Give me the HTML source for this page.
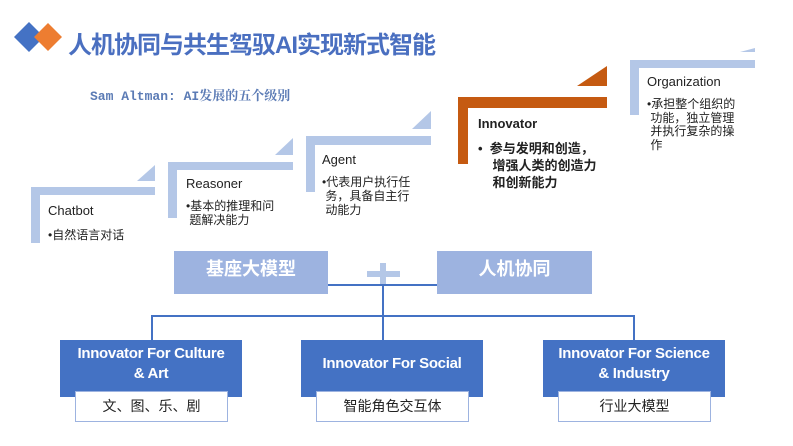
<!DOCTYPE html>
<html><head><meta charset="utf-8"><style>
body{margin:0;width:793px;height:446px;background:#fff;position:relative;overflow:hidden;font-family:"Liberation Sans","Noto Sans CJK SC",sans-serif;}
.a{position:absolute;}
.lb{background:#b4c7e7;position:absolute;}
.t{position:absolute;font-size:13px;color:#222;}
.b{position:absolute;font-size:12px;color:#222;line-height:14px;}
.blue{position:absolute;background:#4472c4;color:#fff;font-weight:bold;font-size:15px;text-align:center;line-height:20px;display:flex;align-items:center;justify-content:center;padding-bottom:10px;box-sizing:border-box;letter-spacing:-0.3px;}
.wl{position:absolute;background:#fff;border:1px solid #9db3e0;font-size:14px;text-align:center;line-height:28px;color:#222;}
.ln{position:absolute;background:#4472c4;}
</style></head><body>
<svg class="a" style="left:0;top:0" width="793" height="446">
<polygon points="29,22 44,37 29,52 14,37" fill="#4472c4"/>
<polygon points="48,23 62,37 48,51 34,37" fill="#ed7d31"/>
<polygon points="137,181 155,181 155,165" fill="#b4c7e7"/>
<polygon points="275,155 293,155 293,138" fill="#b4c7e7"/>
<polygon points="412,129 431,129 431,111" fill="#b4c7e7"/>
<polygon points="577,86 607,86 607,66" fill="#c55a11"/>
<polygon points="740,52 755,52 755,48" fill="#b4c7e7"/>
</svg>
<div class="a" style="left:68px;top:25px;font-size:24px;font-weight:bold;color:#4a6fc0;letter-spacing:-1px;white-space:nowrap">人机协同与共生驾驭AI实现新式智能</div>
<div class="a" style="left:90px;top:85px;font-size:13px;font-weight:bold;color:#5b7bb5;font-family:'Liberation Mono','Noto Serif CJK SC',monospace;white-space:nowrap">Sam Altman: AI发展的五个级别</div>

<div class="lb" style="left:31px;top:187px;width:124px;height:8px"></div>
<div class="lb" style="left:31px;top:187px;width:9px;height:56px"></div>
<div class="t" style="left:48px;top:203px">Chatbot</div>
<div class="b" style="left:48px;top:228px">•自然语言对话</div>

<div class="lb" style="left:168px;top:162px;width:125px;height:8px"></div>
<div class="lb" style="left:168px;top:162px;width:9px;height:56px"></div>
<div class="t" style="left:186px;top:176px">Reasoner</div>
<div class="b" style="left:186px;top:199px">•基本的推理和问<br>&nbsp;题解决能力</div>

<div class="lb" style="left:306px;top:136px;width:125px;height:9px"></div>
<div class="lb" style="left:306px;top:136px;width:9px;height:56px"></div>
<div class="t" style="left:322px;top:152px">Agent</div>
<div class="b" style="left:322px;top:175px">•代表用户执行任<br>&nbsp;务，具备自主行<br>&nbsp;动能力</div>

<div class="a" style="left:458px;top:97px;width:149px;height:11px;background:#c55a11"></div>
<div class="a" style="left:458px;top:97px;width:10px;height:67px;background:#c55a11"></div>
<div class="t" style="left:478px;top:116px;font-weight:bold">Innovator</div>
<div class="b" style="left:478px;top:140px;font-weight:bold;font-size:13px;line-height:17px">•&nbsp;&nbsp;参与发明和创造，<br>&nbsp;&nbsp;&nbsp;&nbsp;增强人类的创造力<br>&nbsp;&nbsp;&nbsp;&nbsp;和创新能力</div>

<div class="lb" style="left:630px;top:60px;width:125px;height:8px"></div>
<div class="lb" style="left:630px;top:60px;width:9px;height:55px"></div>
<div class="t" style="left:647px;top:74px">Organization</div>
<div class="b" style="left:647px;top:98px;line-height:13.5px">•承担整个组织的<br>&nbsp;功能，独立管理<br>&nbsp;并执行复杂的操<br>&nbsp;作</div>

<div class="a" style="left:174px;top:251px;width:154px;height:43px;background:#9db3e0;color:#fff;font-weight:bold;font-size:18px;text-align:center;line-height:36px">基座大模型</div>
<div class="a" style="left:437px;top:251px;width:155px;height:43px;background:#9db3e0;color:#fff;font-weight:bold;font-size:18px;text-align:center;line-height:36px">人机协同</div>
<div class="lb" style="left:367px;top:271px;width:33px;height:6px"></div>
<div class="lb" style="left:380px;top:263px;width:6px;height:22px"></div>

<div class="ln" style="left:328px;top:284px;width:109px;height:2px"></div>
<div class="ln" style="left:382px;top:284px;width:2px;height:56px"></div>
<div class="ln" style="left:151px;top:315px;width:484px;height:2px"></div>
<div class="ln" style="left:151px;top:315px;width:2px;height:25px"></div>
<div class="ln" style="left:633px;top:315px;width:2px;height:25px"></div>

<div class="blue" style="left:60px;top:340px;width:182px;height:57px">Innovator For Culture<br>&amp; Art</div>
<div class="blue" style="left:301px;top:340px;width:182px;height:57px">Innovator For Social</div>
<div class="blue" style="left:543px;top:340px;width:182px;height:57px">Innovator For Science<br>&amp; Industry</div>
<div class="wl" style="left:75px;top:391px;width:151px;height:29px">文、图、乐、剧</div>
<div class="wl" style="left:316px;top:391px;width:151px;height:29px">智能角色交互体</div>
<div class="wl" style="left:558px;top:391px;width:151px;height:29px">行业大模型</div>
</body></html>
